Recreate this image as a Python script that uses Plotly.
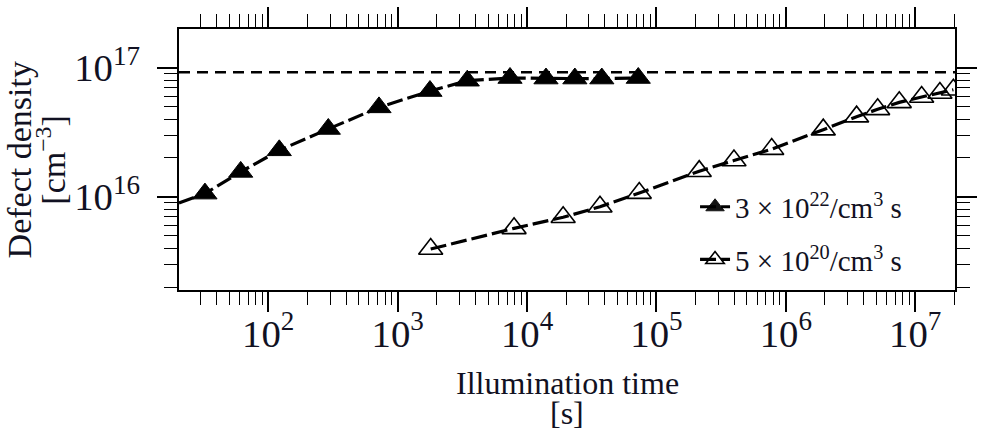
import plotly.graph_objects as go

# ---- data ----
# generation rate 3e22 /cm^3 s (filled triangles); first value = start of the dashed curve at the left edge
t_fast = [20.4, 32.4, 61.2, 121.6, 291, 717, 1776, 3450, 7380, 14000, 23400, 37800, 72300]
n_fast = [8.97e15, 1.06e16, 1.56e16, 2.29e16, 3.35e16, 4.92e16, 6.58e16, 7.91e16,
          8.30e16, 8.22e16, 8.22e16, 8.22e16, 8.30e16]
fast_shown = [0, 1, 1, 1, 1, 1, 1, 1, 1, 1, 1, 1, 1]

# generation rate 5e20 /cm^3 s (open triangles)
t_slow = [1799, 7930, 19000, 36600, 73600, 214000, 397000, 777000, 1.945e6,
          3.52e6, 5.12e6, 7.52e6, 1.12e7, 1.55e7, 1.97e7]
n_slow = [3.95e15, 5.71e15, 6.95e15, 8.39e15, 1.07e16, 1.58e16, 1.91e16, 2.34e16,
          3.31e16, 4.17e16, 4.75e16, 5.38e16, 5.92e16, 6.35e16, 6.73e16]

saturation = 9.18e16

labels = ["3 × 10<sup>22</sup>/cm<sup>3</sup> s", "5 × 10<sup>20</sup>/cm<sup>3</sup> s"]
x_title = ["Illumination time", "[s]"]
y_title = ["Defect density", "[cm<sup>−3</sup>]"]

x_range = [1.31, 7.307]
y_range = [15.28, 17.298]

FONT = "Liberation Serif"
INK = "#111122"

fig = go.Figure()

fig.add_trace(go.Scatter(
    x=[10 ** x_range[0], 10 ** x_range[1]], y=[saturation, saturation],
    mode="lines", line=dict(color="black", width=2.5, dash="11px,7px"),
    showlegend=False, hoverinfo="skip"))

fig.add_trace(go.Scatter(
    x=t_fast, y=n_fast, mode="lines+markers", name=labels[0], legendgroup="a",
    line=dict(color="black", width=3.2, dash="16px,5px"),
    marker=dict(symbol="triangle-up", size=21, color="black", opacity=fast_shown,
                line=dict(color="black", width=1))))

fig.add_trace(go.Scatter(
    x=t_slow, y=n_slow, mode="lines+markers", name=labels[1], legendgroup="b",
    line=dict(color="black", width=3.2, dash="16px,5px"),
    marker=dict(symbol="triangle-up-open", size=21, color="black",
                line=dict(color="black", width=1.6))))

axis_common = dict(
    type="log", dtick=1, exponentformat="power", automargin=False,
    showline=True, linecolor="black", linewidth=1.5, mirror="allticks",
    ticks="outside", ticklen=20, tickwidth=1.5, tickcolor="black",
    showgrid=False, zeroline=False,
    tickfont=dict(family=FONT, size=31, color=INK),
    minor=dict(ticks="outside", ticklen=13, tickwidth=1.3, tickcolor="black",
               dtick="D1", showgrid=False),
)

xt_font = dict(family=FONT, size=32, color=INK)
yt_font = dict(family=FONT, size=34, color=INK)
annotations = [
    dict(text=x_title[0], x=0.5, y=-0.358, xref="paper", yref="paper",
         xanchor="center", yanchor="middle", showarrow=False, font=xt_font),
    dict(text=x_title[1], x=0.5, y=-0.471, xref="paper", yref="paper",
         xanchor="center", yanchor="middle", showarrow=False, font=xt_font),
    dict(text=y_title[0], x=-0.205, y=0.50, xref="paper", yref="paper", textangle=-90,
         xanchor="center", yanchor="middle", showarrow=False, font=yt_font),
    dict(text=y_title[1], x=-0.166, y=0.50, xref="paper", yref="paper", textangle=-90,
         xanchor="center", yanchor="middle", showarrow=False, font=yt_font),
]

fig.update_layout(
    width=981, height=432,
    margin=dict(l=179, r=26, t=29, b=142),
    paper_bgcolor="white", plot_bgcolor="white",
    font=dict(family=FONT, color=INK),
    xaxis=dict(axis_common, range=x_range, ticklabelstandoff=-10),
    yaxis=dict(axis_common, range=y_range, ticklabelstandoff=11),
    annotations=annotations,
    legend=dict(x=0.665, y=0.416, xanchor="left", yanchor="top",
                bgcolor="rgba(0,0,0,0)", font=dict(family=FONT, size=29, color=INK),
                traceorder="grouped", tracegroupgap=12, itemwidth=30),
)

fig.write_html("out.html")
